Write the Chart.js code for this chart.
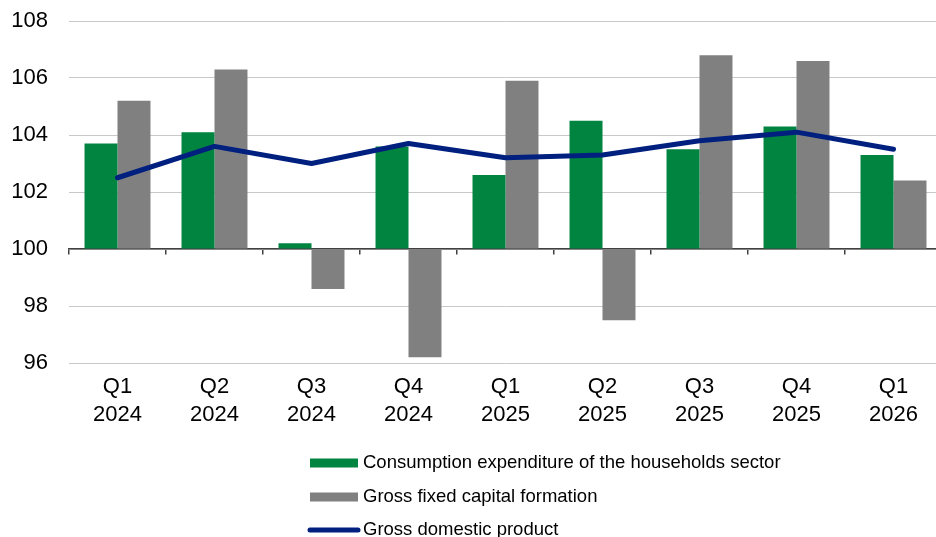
<!DOCTYPE html>
<html>
<head>
<meta charset="utf-8">
<script src="https://cdn.jsdelivr.net/npm/chart.js@4/dist/chart.umd.min.js"></script>
<style>
  html, body { margin: 0; padding: 0; background: #fff; overflow: hidden; }
  #wrap { width: 942px; height: 537px; }
</style>
</head>
<body>
<div id="wrap"><canvas id="chart" width="942" height="537"></canvas></div>
<script>
// ---------------- DATA ----------------
const quarters = [["Q1","2024"],["Q2","2024"],["Q3","2024"],["Q4","2024"],
                  ["Q1","2025"],["Q2","2025"],["Q3","2025"],["Q4","2025"],["Q1","2026"]];
const consumption = [103.7, 104.1, 100.2, 103.6, 102.6, 104.5, 103.5, 104.3, 103.3];
const capitalFormation = [105.2, 106.3, 98.6, 96.2, 105.9, 97.5, 106.8, 106.6, 102.4];
const gdp = [102.5, 103.6, 103.0, 103.7, 103.2, 103.3, 103.8, 104.1, 103.5];

const FONT = "'Liberation Sans', Arial, sans-serif";

// legende verticale en bas (dessinee sur le canvas)
const bottomLegend = {
    id: "bottomLegend",
    afterDraw(chart) {
        const ctx = chart.ctx;
        const rows = [463, 497, 530];
        ctx.save();
        ctx.font = "18.5px " + FONT;
        ctx.textBaseline = "middle";
        chart.data.datasets.forEach((ds, i) => {
            const y = rows[i];
            if (ds.type === "line") {
                ctx.strokeStyle = ds.borderColor;
                ctx.lineWidth = 5;
                ctx.lineCap = "round";
                ctx.beginPath();
                ctx.moveTo(310, y);
                ctx.lineTo(358, y);
                ctx.stroke();
            } else {
                ctx.fillStyle = ds.backgroundColor;
                ctx.fillRect(310, y - 4.5, 48, 9);
            }
            ctx.fillStyle = "#000";
            ctx.fillText(ds.label, 363, y);
        });
        ctx.restore();
    }
};

const ctx = document.getElementById("chart").getContext("2d");
const chart = new Chart(ctx, {
    data: {
        labels: quarters,
        datasets: [{
            type: "bar",
            label: "Consumption expenditure of the households sector",
            data: consumption,
            base: 100,
            backgroundColor: "#00843F",
            categoryPercentage: 0.68,
            barPercentage: 1.0,
            order: 1
        }, {
            type: "bar",
            label: "Gross fixed capital formation",
            data: capitalFormation,
            base: 100,
            backgroundColor: "#808080",
            categoryPercentage: 0.68,
            barPercentage: 1.0,
            order: 1
        }, {
            type: "line",
            label: "Gross domestic product",
            data: gdp,
            borderColor: "#00207F",
            borderWidth: 5,
            borderCapStyle: "round",
            borderJoinStyle: "round",
            pointRadius: 0,
            tension: 0,
            order: 0
        }]
    },
    options: {
        responsive: false,
        animation: false,
        layout: { padding: { top: 21, bottom: 108, left: 0, right: 0 } },
        plugins: {
            legend: { display: false },
            tooltip: { enabled: false }
        },
        scales: {
            x: {
                grid: { display: false, drawTicks: false },
                border: { display: false },
                ticks: {
                    color: "#000",
                    padding: 10,
                    maxRotation: 0,
                    font: { family: FONT, size: 22, lineHeight: 1.28 }
                },
                afterFit: (s) => { s.height = 66; }
            },
            x2: {
                type: "category",
                labels: quarters,
                offset: true,
                position: { y: 100 },
                grid: {
                    offset: true,
                    drawOnChartArea: false,
                    drawTicks: true,
                    tickLength: 5,
                    color: "#404040",
                    lineWidth: 1.5
                },
                border: { display: true, color: "#404040", width: 1.5 },
                ticks: { display: false, autoSkip: false }
            },
            y: {
                min: 96,
                max: 108,
                ticks: {
                    stepSize: 2,
                    color: "#000",
                    padding: 21,
                    font: { family: FONT, size: 22 }
                },
                grid: { color: "#c8c8c8", lineWidth: 1, drawTicks: false },
                border: { display: false },
                afterFit: (s) => {
                    s.width = 69;
                    s.paddingTop = 0;
                    s.paddingBottom = 0;
                }
            }
        }
    },
    plugins: [bottomLegend]
});
</script>
</body>
</html>
